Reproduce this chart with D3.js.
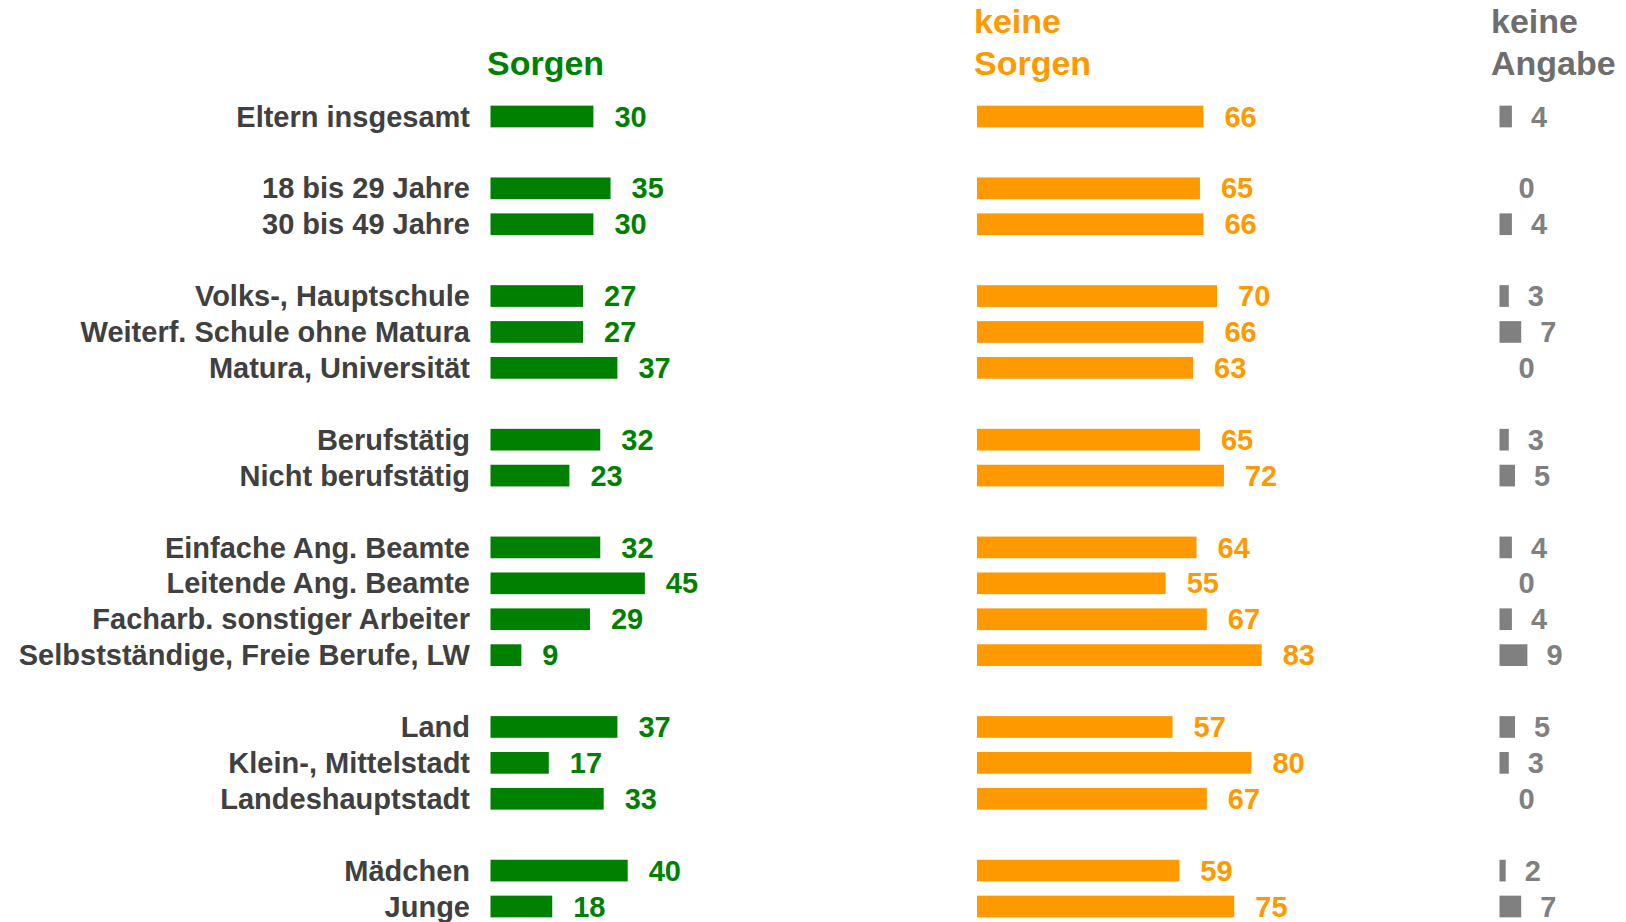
<!DOCTYPE html>
<html>
<head>
<meta charset="utf-8">
<script src="https://cdn.jsdelivr.net/npm/d3@7"></script>
<style>
  body { margin: 0; background: #fff; }
  text { font-family: "Liberation Sans", Arial, sans-serif; font-weight: bold; }
</style>
</head>
<body>
<div id="chart"></div>
<script>
// categories and their group (a gap is left between groups)
const categories = [
    "Eltern insgesamt",
    "18 bis 29 Jahre", "30 bis 49 Jahre",
    "Volks-, Hauptschule", "Weiterf. Schule ohne Matura", "Matura, Universität",
    "Berufstätig", "Nicht berufstätig",
    "Einfache Ang. Beamte", "Leitende Ang. Beamte", "Facharb. sonstiger Arbeiter", "Selbstständige, Freie Berufe, LW",
    "Land", "Klein-, Mittelstadt", "Landeshauptstadt",
    "Mädchen", "Junge"
];
const groups = [0, 1, 1, 2, 2, 2, 3, 3, 4, 4, 4, 4, 5, 5, 5, 6, 6];

const sorgen      = [30, 35, 30, 27, 27, 37, 32, 23, 32, 45, 29, 9, 37, 17, 33, 40, 18];
const keineSorgen = [66, 65, 66, 70, 66, 63, 65, 72, 64, 55, 67, 83, 57, 80, 67, 59, 75];
const keineAngabe = [4, 0, 4, 3, 7, 0, 3, 5, 4, 0, 4, 9, 5, 3, 0, 2, 7];

const seriesTitles = [["Sorgen"], ["keine", "Sorgen"], ["keine", "Angabe"]];

const width = 1626, height = 922;

const svg = d3.select("#chart")
    .append("svg")
    .attr("width", width)
    .attr("height", height);

// Vertical position: row slot = index + group (one empty slot per group gap)
const slots = categories.map((c, i) => i + groups[i]);
const yScale = d3.scaleLinear().domain([0, 22]).range([116.5, 906.5]);
const barH = 21.7;

// Horizontal scales (the small "keine Angabe" bars are drawn a bit narrower)
const xScale = d3.scaleLinear().domain([0, 100]).range([0, 343]);
const xSmall = d3.scaleLinear().domain([0, 100]).range([0, 310]);

const columns = [
    { values: sorgen,      x0: 490.5,  x: xScale, gap: 21, color: "#008000", headColor: "#008000", headX: 487 },
    { values: keineSorgen, x0: 977,    x: xScale, gap: 21, color: "#FF9900", headColor: "#FF9900", headX: 974 },
    { values: keineAngabe, x0: 1499.5, x: xSmall, gap: 19, color: "#808080", headColor: "#6e6e6e", headX: 1491 }
];

// Category labels
svg.append("g")
    .selectAll("text")
    .data(categories)
    .join("text")
    .attr("x", 470)
    .attr("y", (d, i) => yScale(slots[i]))
    .attr("dy", "0.35em")
    .attr("text-anchor", "end")
    .attr("fill", "#404040")
    .attr("font-size", 29)
    .text(d => d);

columns.forEach((col, ci) => {
    const g = svg.append("g").attr("transform", `translate(${col.x0},0)`);

    // bars
    g.selectAll("rect")
        .data(col.values)
        .join("rect")
        .attr("x", 0)
        .attr("y", (d, i) => yScale(slots[i]) - barH / 2)
        .attr("width", d => col.x(d))
        .attr("height", barH)
        .attr("fill", col.color);

    // value labels
    g.selectAll("text.val")
        .data(col.values)
        .join("text")
        .attr("class", "val")
        .attr("x", d => col.x(d) + col.gap)
        .attr("y", (d, i) => yScale(slots[i]))
        .attr("dy", "0.35em")
        .attr("fill", col.color)
        .attr("font-size", 29)
        .text(d => d);

    // column header, bottom line sits at the same baseline
    const lines = seriesTitles[ci];
    svg.append("g")
        .selectAll("text")
        .data(lines)
        .join("text")
        .attr("x", col.headX)
        .attr("y", (d, i) => 74.5 - (lines.length - 1 - i) * 41.5)
        .attr("fill", col.headColor)
        .attr("font-size", 34)
        .text(d => d);
});
</script>
</body>
</html>
